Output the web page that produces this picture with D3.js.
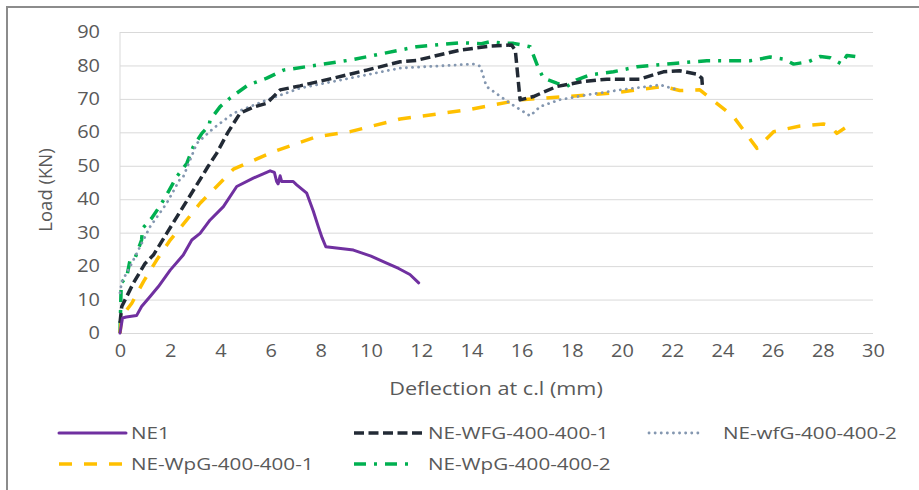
<!DOCTYPE html>
<html>
<head>
<meta charset="utf-8">
<script src="https://cdn.jsdelivr.net/npm/d3@7"></script>
<style>
  body { margin: 0; background: #fff; }
  text { font-family: "Open Sans", sans-serif; fill: #595959; }
</style>
</head>
<body>
<div id="chart"></div>
<script>
// load-deflection readings, [deflection mm, load kN]
var ne1 = [[0,0],[0.1,4.5],[0.25,4.8],[0.66,5.2],[0.86,7.9],[1.2,10.9],[1.53,13.9],[2.0,18.8],[2.52,23.3],[2.86,27.8],[3.19,29.8],[3.59,33.8],[4.12,37.8],[4.65,43.8],[5.31,46.3],[5.98,48.5],[6.15,48.0],[6.24,45.3],[6.3,44.6],[6.38,47],[6.44,45.3],[6.9,45.3],[7.04,44.3],[7.44,41.8],[7.7,36.5],[7.9,31.8],[8.05,28.5],[8.2,25.8],[9.3,24.8],[10.0,23.0],[10.6,21.0],[11.1,19.3],[11.55,17.5],[11.9,15]];
var wfg1 = [[0,3],[0.07,7.9],[0.53,14.9],[1.0,20.8],[1.33,23.3],[1.86,29.8],[2.52,37.8],[3.2,46],[3.5,49.7],[3.85,53.7],[4.3,60],[4.78,65.7],[5.3,67.5],[5.85,68.7],[6.38,72.7],[7.17,73.9],[8.5,76.2],[9.83,78.6],[11.16,81.1],[11.8,81.5],[13.55,84.6],[14.8,85.8],[15.6,86.1],[15.75,84.5],[15.94,69.7],[16.47,70.7],[17.4,73.7],[18.46,75.2],[19.4,75.9],[20.7,75.9],[21.65,78.1],[22.3,78.4],[22.98,77.4],[23.18,76.2],[23.2,74.2]];
var wfg2 = [[0,12],[0.07,15.3],[0.4,19.8],[0.73,24.8],[1.2,31.8],[1.86,38.8],[2.39,46],[2.52,46.7],[3.06,56.7],[3.72,61.2],[4.52,65.7],[5.85,69.7],[7.17,73.2],[8.5,75.2],[9.83,77.2],[11.16,79.2],[13.55,80.2],[14.08,80.4],[14.35,79.8],[14.6,73.7],[15.54,68.7],[16.34,64.9],[16.74,67.7],[17.5,69.7],[18.6,71.2],[19.93,72.7],[21.52,74.2],[22.3,72.5]];
var wpg1 = [[0,0],[0.07,4.9],[0.47,8.9],[0.93,15.3],[1.46,21.8],[2.0,27.8],[2.66,33.8],[3.19,38.8],[3.85,43.8],[4.52,49],[6.11,54.2],[7.84,58.7],[9.17,60.2],[11.16,64],[13.82,66.7],[15.94,69.7],[17.8,70.7],[19.8,71.9],[21.65,73.7],[22.3,72.5],[23.1,72.7],[24.44,64.7],[25.38,55.2],[26.04,60.2],[27.1,61.9],[28.03,62.5],[28.3,62],[28.56,59.7],[28.96,61.7]];
var wpg2 = [[0,0],[0.05,15],[0.27,16.8],[0.4,21.8],[0.6,22.4],[0.86,27.8],[0.9,31.3],[1.26,34.3],[1.53,37.3],[1.66,38.8],[1.93,42.3],[2.26,46.7],[2.66,50.7],[2.92,55.7],[3.26,59.7],[3.55,62],[3.59,63.7],[3.99,67.7],[4.38,70.2],[4.65,71.7],[5.11,74.2],[5.85,76.2],[6.51,78.6],[7.84,80.1],[9.17,81.6],[10.49,83.6],[11.82,85.6],[13.55,86.8],[14.4,86.5],[14.75,87.1],[15.4,86.6],[15.68,86.6],[16.34,85.6],[16.67,79.2],[16.87,76.2],[17.4,74.7],[17.8,73.7],[18.2,75.7],[18.73,77.2],[19.66,78.1],[20.6,79.6],[21.26,80.1],[22.06,80.6],[23.38,81.4],[25.1,81.4],[25.9,82.5],[26.44,81.9],[26.84,80.4],[27.43,81.1],[27.9,82.7],[28.3,82.3],[28.76,80.4],[28.96,83.0],[29.43,82.5]];

var seriesNames = ["NE1", "NE-WFG-400-400-1", "NE-wfG-400-400-2", "NE-WpG-400-400-1", "NE-WpG-400-400-2"];
var seriesData = [ne1, wfg1, wfg2, wpg1, wpg2];
var xTicks = d3.range(0, 31, 2);
var yTicks = d3.range(0, 91, 10);

var styles = [
  {color: "#7030a0", width: 3,   dash: null,           cap: "round"},
  {color: "#222a35", width: 3.5, dash: "10,4.5",       cap: "butt"},
  {color: "#8497b0", width: 2.8, dash: "0.1,6",        cap: "round"},
  {color: "#ffc000", width: 3.5, dash: "13,12",        cap: "butt"},
  {color: "#00b050", width: 3.5, dash: "12,8,3,8",     cap: "butt"}
];

var W = 919, H = 490;
var margin = {top: 32, right: 46, bottom: 157, left: 120},
    width = W - margin.left - margin.right,
    height = H - margin.top - margin.bottom;

var svg = d3.select("#chart")
  .append("svg")
    .attr("width", W)
    .attr("height", H);

// chart frame (only top and left edges fall inside the crop)
svg.append("path")
  .attr("d", "M7,490 L7,7 L919,7")
  .attr("fill", "none")
  .attr("stroke", "#8c8c8c")
  .attr("stroke-width", 2);

var g = svg.append("g")
  .attr("transform", "translate(" + margin.left + "," + margin.top + ")");

var x = d3.scaleLinear().domain([0, 30]).range([0, width]);
var y = d3.scaleLinear().domain([0, 90]).range([height, 0]);

// horizontal gridlines
g.append("g")
  .call(d3.axisLeft(y).tickValues(yTicks).tickSize(-width).tickFormat(""))
  .call(function(a) {
    a.select(".domain").remove();
    a.selectAll("line").attr("stroke", "#d9d9d9");
  });

// left vertical line
g.append("line")
  .attr("x1", 0).attr("x2", 0).attr("y1", 0).attr("y2", height)
  .attr("stroke", "#d9d9d9");

// the source picture is a little stretched sideways, so text is too
var stretch = "scale(1.14,1)";

// Y axis labels
g.append("g")
  .call(d3.axisLeft(y).tickValues(yTicks).tickSize(0))
  .call(function(a) {
    a.select(".domain").remove();
    a.selectAll("text").style("font-size", "17.5px").attr("fill", "#595959")
      .attr("x", null).attr("transform", "translate(-20,0) " + stretch);
  });

// X axis labels
g.append("g")
  .attr("transform", "translate(0," + height + ")")
  .call(d3.axisBottom(x).tickValues(xTicks).tickSize(0).tickPadding(12))
  .call(function(a) {
    a.select(".domain").remove();
    a.selectAll("text").style("font-size", "17.5px").attr("fill", "#595959")
      .attr("transform", stretch);
  });

// axis titles
svg.append("text")
  .attr("transform", "translate(52,190) rotate(-90)")
  .attr("text-anchor", "middle")
  .style("font-size", "18.5px")
  .text("Load (KN)");

svg.append("text")
  .attr("transform", "translate(496,395) " + stretch)
  .attr("text-anchor", "middle")
  .style("font-size", "19px")
  .text("Deflection at c.l (mm)");

// lines
var line = d3.line()
  .x(function(d) { return x(d[0]); })
  .y(function(d) { return y(d[1]); });

// draw so NE1 sits on top like the reference
[4, 3, 2, 1, 0].forEach(function(i) {
  var s = styles[i];
  g.append("path")
    .datum(seriesData[i])
    .attr("fill", "none")
    .attr("stroke", s.color)
    .attr("stroke-width", s.width)
    .attr("stroke-dasharray", s.dash)
    .attr("stroke-linecap", s.cap)
    .attr("stroke-linejoin", "round")
    .attr("d", line);
});

// legend
var legendPos = [
  {x: 59,  y: 433, lw: 67},
  {x: 354, y: 433, lw: 68},
  {x: 649, y: 433, lw: 50},
  {x: 59,  y: 464, lw: 67},
  {x: 354, y: 464, lw: 60}
];
var textX = [131, 428, 723, 131, 428];

var legend = svg.append("g");
seriesNames.forEach(function(name, i) {
  var p = legendPos[i], s = styles[i];
  legend.append("line")
    .attr("x1", p.x).attr("x2", p.x + p.lw)
    .attr("y1", p.y).attr("y2", p.y)
    .attr("stroke", s.color)
    .attr("stroke-width", s.width)
    .attr("stroke-dasharray", s.dash)
    .attr("stroke-linecap", s.cap);
  legend.append("text")
    .attr("transform", "translate(" + textX[i] + "," + p.y + ") scale(1.25,1)")
    .attr("dy", "0.35em")
    .style("font-size", "16.5px")
    .text(name);
});
</script>
</body>
</html>
